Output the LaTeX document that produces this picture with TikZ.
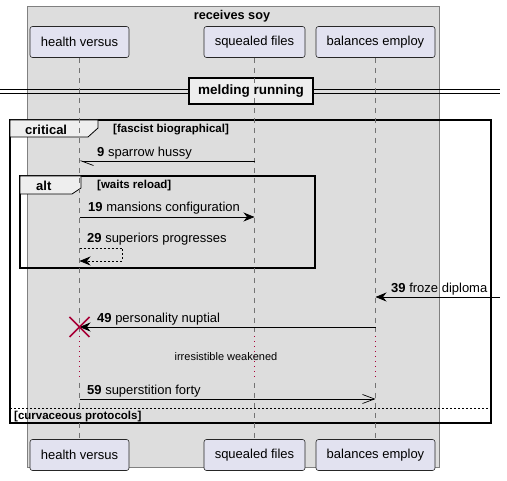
\documentclass[tikz,border=0pt]{standalone}
\usepackage{fontspec}
\setmainfont{Liberation Sans}
\usetikzlibrary{positioning}
\usetikzlibrary{arrows.meta}

\definecolor{boxgray}{HTML}{DDDDDD}
\definecolor{partfill}{HTML}{E2E2F0}
\definecolor{tabfill}{HTML}{EEEEEE}
\definecolor{killred}{HTML}{A80036}

\tikzset{
	participant/.style={draw=black!85, fill=partfill, rounded corners=2.5pt, line width=0.6pt,
		minimum height=31pt, inner xsep=6pt, font=\fontsize{13}{15}\selectfont},
	lifeline/.style={draw=black!55, dash pattern=on 5pt off 5pt, line width=0.6pt},
	delayline/.style={draw=killred, dash pattern=on 1pt off 4pt, line width=0.9pt},
	msg/.style={line width=0.7pt, -{Stealth[length=11pt,width=9pt,inset=3.5pt]}},
	msglabel/.style={font=\fontsize{13}{15}\selectfont, anchor=west, inner sep=0pt},
	guard/.style={font=\bfseries\fontsize{11.5}{13}\selectfont, anchor=west, inner sep=0pt},
	tagtext/.style={font=\bfseries\fontsize{13}{15}\selectfont, anchor=west, inner sep=0pt},
	frameline/.style={line width=1.5pt},
	tabshape/.style={fill=tabfill, draw=black, line width=0.8pt}
}

\begin{document}
\begin{tikzpicture}[x=1pt,y=-1pt]
		\useasboundingbox[fill=white] (0,0) rectangle (507,481);
		
		% box round the participants
		\draw[fill=boxgray, draw=black!50, line width=0.7pt] (27,6) rectangle (439,467);
		\node[font=\bfseries\fontsize{12.7}{14}\selectfont] (boxtitle) at (232,16) {receives soy};
		
		% divider
		\draw[line width=0.7pt] (0,89) -- (500,89);
		\draw[line width=0.7pt] (0,93) -- (500,93);
		\node[draw, line width=1.5pt, fill=tabfill, minimum width=124pt, minimum height=26pt,
			font=\bfseries\fontsize{13.5}{15}\selectfont] (divider) at (251,91) {melding running};
		
		% participants
		\node[participant, minimum width=99pt] (hv-top) at (79.5,42) {health versus};
		\node[participant, minimum width=101pt] (sf-top) at (254.5,42) {squealed files};
		\node[participant, minimum width=119pt] (be-top) at (375.5,42) {balances employ};
		\node[participant, minimum width=99pt] (hv-bot) at (79.5,455) {health versus};
		\node[participant, minimum width=101pt] (sf-bot) at (254.5,455) {squealed files};
		\node[participant, minimum width=119pt] (be-bot) at (375.5,455) {balances employ};
		
		% critical frame
		\draw[frameline] (10,120) rectangle (491,423);
		\draw[tabshape] (10,120) -- (98,120) -- (98,128) -- (88,137) -- (10,137) -- cycle;
		\node[tagtext] (crittag) at (25,130) {critical};
		\node[guard] (critguard) at (113,130) {[fascist biographical]};
		\draw[dash pattern=on 2pt off 2pt, line width=0.7pt] (10,408) -- (491,408);
		\node[guard] (elseguard) at (14,417) {[curvaceous protocols]};
		
		% alt frame
		\draw[frameline] (20,176) rectangle (315,268);
		\draw[tabshape] (20,176) -- (81,176) -- (81,188) -- (72,194) -- (20,194) -- cycle;
		\node[tagtext] (alttag) at (36,186) {alt};
		\node[guard] (altguard) at (97,186) {[waits reload]};
		
		% lifelines
		\foreach \p/\x in {hv/79.5,sf/254.5,be/375.5}{
			\draw[lifeline] (\p-top.south) -- (\x,332);
			\draw[delayline] (\x,336) -- (\x,380);
			\draw[lifeline] (\x,383) -- (\p-bot.north);
		}
		
		% messages
		\coordinate (sf9) at (254.5,161);
		\coordinate (hv9) at (79.5,161);
		\draw[line width=0.7pt, -{Straight Barb[left,length=12pt,width=9pt]}] (sf9) -- (hv9);
		\node[msglabel] (m9) at (97,153) {\textbf{9} sparrow hussy};
		
		\coordinate (hv19) at (79.5,217);
		\coordinate (sf19) at (254.5,217);
		\draw[msg] (hv19) -- (sf19);
		\node[msglabel] (m19) at (88,208) {\textbf{19} mansions configuration};
		
		\coordinate (hv29a) at (79.5,248);
		\coordinate (hv29b) at (79.5,261);
		\draw[msg, dash pattern=on 2pt off 2pt] (hv29a) -- (122,248) -- (122,261) -- (hv29b);
		\node[msglabel] (m29) at (87,239) {\textbf{29} superiors progresses};
		
		\coordinate (in39) at (500,297);
		\coordinate (be39) at (375.5,297);
		\draw[msg] (in39) -- (be39);
		\node[msglabel] (m39) at (391,289) {\textbf{39} froze diploma};
		
		\coordinate (be49) at (375.5,327);
		\coordinate (hv49) at (79.5,327);
		\draw[msg] (be49) -- (hv49);
		\node[msglabel] (m49) at (97,319) {\textbf{49} personality nuptial};
		\draw[killred, line width=1.5pt] (69.5,317) -- (89.5,337) (69.5,337) -- (89.5,317);
		
		\node[font=\fontsize{11}{13}\selectfont] (delay) at (226,357) {irresistible weakened};
		
		\coordinate (hv59) at (79.5,399);
		\coordinate (be59) at (375.5,399);
		\draw[line width=0.7pt, -{Straight Barb[length=12pt,width=9pt]}] (hv59) -- (be59);
		\node[msglabel] (m59) at (87,391) {\textbf{59} superstition forty};
	\end{tikzpicture}
\end{document}
